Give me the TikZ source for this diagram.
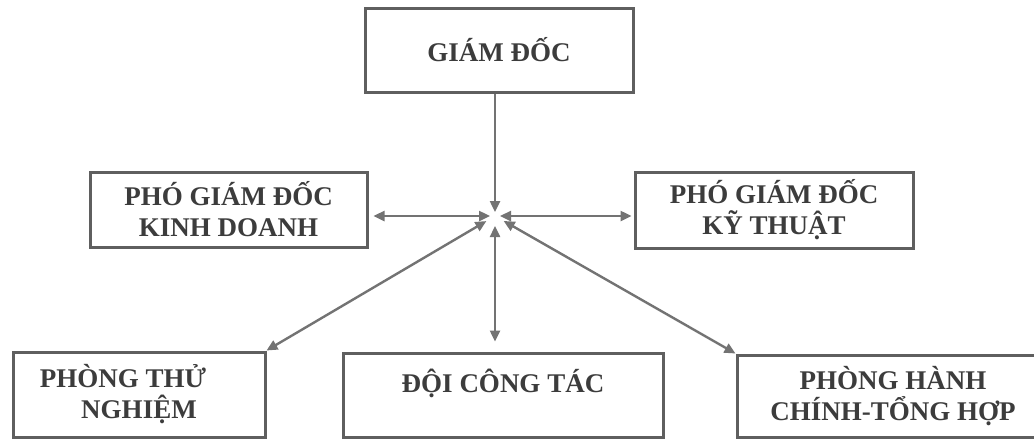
\documentclass[tikz,border=0pt]{standalone}
\usepackage{fontspec}
\setmainfont{Liberation Serif}
\usetikzlibrary{arrows.meta, positioning, calc}
\definecolor{bgray}{RGB}{95,95,95}
\definecolor{tgray}{RGB}{60,60,60}
\definecolor{agray}{RGB}{115,115,115}

\begin{document}
\begin{tikzpicture}[
  x=0.5pt, y=-0.5pt,
  font=\bfseries\fontsize{13.5pt}{15.5pt}\selectfont,
  box/.style={draw=bgray,line width=1.5pt,fill=white,
              align=center,text=tgray,inner sep=0pt},
  arr/.style={{Triangle[length=5.5pt,width=5pt]}-{Triangle[length=5.5pt,width=5pt]},
              line width=1.2pt,color=agray},
  arrone/.style={-{Triangle[length=5.5pt,width=5pt]},line width=1.2pt,color=agray}
]
  \clip (0,0) rectangle (1034,440);
  \node[box,minimum width=134pt,minimum height=42pt] (gd) at (499,50) {GIÁM ĐỐC};
  \node[box,minimum width=138.5pt,minimum height=37.5pt] (pgkd) at (228.5,209.5)
    {PHÓ GIÁM ĐỐC\\KINH DOANH};
  \node[box,minimum width=139pt,minimum height=38pt] (pgkt) at (774,210)
    {PHÓ GIÁM ĐỐC\\KỸ THUẬT};
  \node[box,minimum width=126pt,minimum height=42.5pt] (pts) at (139,394.5)
    {PHÒNG THỬ\hspace*{16pt}\\NGHIỆM};
  \node[box,minimum width=160pt,minimum height=42pt,text height=12pt,text depth=15pt]
    (dct) at (503,395) {ĐỘI CÔNG TÁC};
  \node[box,minimum width=156pt,minimum height=41pt] (pth) at (893,396)
    {PHÒNG HÀNH\\CHÍNH-TỔNG HỢP};
  \coordinate (hub) at (495,216);
  % connectors
  \draw[arrone,shorten >=2pt] (gd.south -| hub) -- (hub);
  \draw[arr,shorten <=2.5pt,shorten >=2.5pt] (hub) -- (pgkd.east |- hub);
  \draw[arr,shorten <=2.5pt,shorten >=1pt] (hub) -- (pgkt.west |- hub);
  \draw[arr,shorten <=5pt,shorten >=5pt] (hub) -- (dct.north -| hub);
  \foreach \b in {pts.north east,pth.north west}
    \draw[arr,shorten <=5pt] (hub) -- (\b);
\end{tikzpicture}
\end{document}
